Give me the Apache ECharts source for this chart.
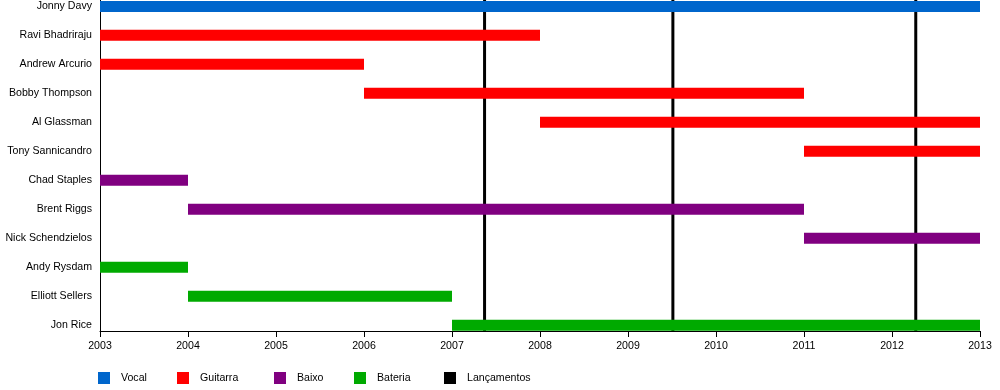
<!DOCTYPE html>
<html><head><meta charset="utf-8">
<script src="https://cdn.jsdelivr.net/npm/echarts@6/dist/echarts.min.js"></script>
<style>html,body{margin:0;padding:0;background:#fff}#c{width:1000px;height:390px}</style>
</head><body><div id="c"></div>
<script>
const members = ["Jonny Davy","Ravi Bhadriraju","Andrew Arcurio","Bobby Thompson","Al Glassman","Tony Sannicandro","Chad Staples","Brent Riggs","Nick Schendzielos","Andy Rysdam","Elliott Sellers","Jon Rice"];
const memberRoles = ["Vocal","Guitarra","Guitarra","Guitarra","Guitarra","Guitarra","Baixo","Baixo","Baixo","Bateria","Bateria","Bateria"];
const startYears = [2003,2003,2003,2006,2008,2011,2003,2004,2011,2003,2004,2007];
const endYears = [2013,2008,2006,2011,2013,2013,2004,2011,2013,2004,2007,2013];
const roles = ["Vocal","Guitarra","Baixo","Bateria"];
const roleColors = ["#0066CC","#FF0000","#800080","#00AA00"];
const releaseName = "Lançamentos";
const releases = [2007.37, 2009.51, 2012.27];

const FONT = "Liberation Sans, Arial, sans-serif";
const chart = echarts.init(document.getElementById('c'));

function renderBar(params, api) {
  const s = api.coord([api.value(0), api.value(2)]);
  const e = api.coord([api.value(1), api.value(2)]);
  const h = 11;
  return {
    type: 'rect',
    shape: {x: s[0], y: s[1] - h / 2, width: e[0] - s[0], height: h},
    style: {fill: api.visual('color')}
  };
}
function renderRelease(params, api) {
  const cs = params.coordSys;
  const p = api.coord([api.value(0), 0]);
  return {
    type: 'line',
    shape: {x1: p[0], y1: cs.y, x2: p[0], y2: cs.y + cs.height},
    style: {stroke: '#000', lineWidth: 3}
  };
}

const series = roles.map((r, ri) => ({
  name: r,
  type: 'custom',
  renderItem: renderBar,
  itemStyle: {color: roleColors[ri]},
  encode: {x: [0, 1], y: 2},
  z: 5,
  data: members.map((m, i) => memberRoles[i] === r ? [startYears[i], endYears[i], i] : null).filter(d => d)
}));
series.push({
  name: releaseName,
  type: 'custom',
  renderItem: renderRelease,
  itemStyle: {color: '#000'},
  encode: {x: 0},
  z: 1,
  data: releases.map(v => [v])
});

const legendNames = roles.concat([releaseName]);
const legendLefts = [98, 177, 274, 354, 444];
const legends = legendNames.map((n, i) => ({
  left: legendLefts[i], top: 372, padding: 0,
  icon: 'rect', itemWidth: 12, itemHeight: 12,
  textStyle: {color: '#000', fontSize: 10.6, fontFamily: FONT, padding: [0, 0, 0, 6]},
  data: [n]
}));

chart.setOption({
  animation: false,
  textStyle: {fontFamily: FONT},
  grid: {left: 100, right: 20, top: 0, height: 331},
  xAxis: {
    type: 'value', min: 2003, max: 2013, interval: 1,
    axisLine: {show: true, onZero: false, lineStyle: {color: '#000', width: 1}},
    axisTick: {show: true, length: 6, lineStyle: {color: '#000'}},
    axisLabel: {color: '#000', fontSize: 10.6, fontFamily: FONT, margin: 10, formatter: v => String(v)},
    splitLine: {show: false}
  },
  yAxis: {
    type: 'value', inverse: true, min: -0.22, max: 11.2,
    axisLine: {show: true, onZero: false, lineStyle: {color: '#000', width: 1}},
    axisTick: {show: false},
    splitLine: {show: false},
    axisLabel: {
      color: '#000', fontSize: 10.6, fontFamily: FONT, margin: 8,
      customValues: members.map((m, i) => i),
      formatter: v => members[Math.round(v)] || ''
    }
  },
  legend: legends,
  series: series
});
</script></body></html>
